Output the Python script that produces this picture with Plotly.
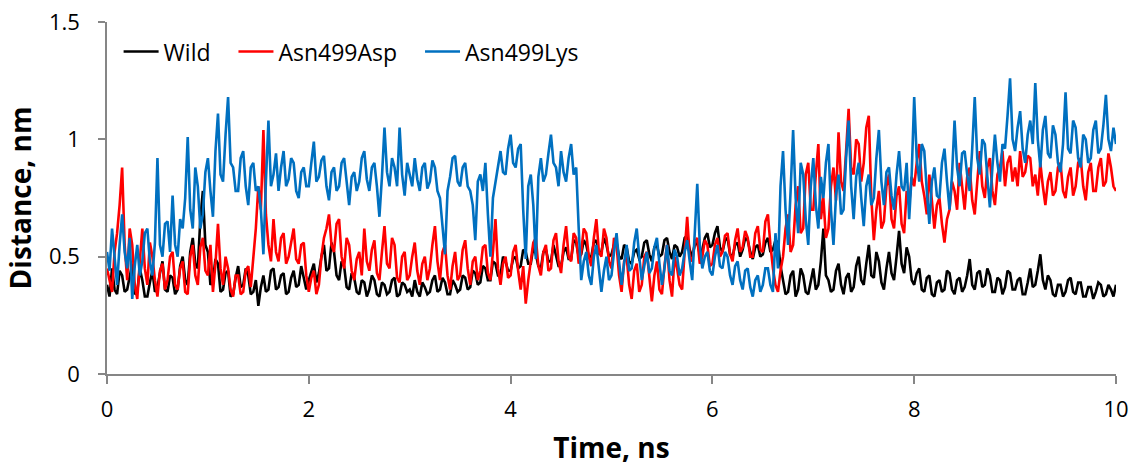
import plotly.graph_objects as go

# Simulation time axis (ns), sampled every 0.025 ns
time_ns = [round(i * 0.025, 3) for i in range(401)]

wild = [
    0.38, 0.33, 0.45, 0.36, 0.34, 0.44, 0.42, 0.35, 0.36, 0.41, 0.47, 0.34, 0.35, 0.45, 0.40, 0.33, 0.33, 0.39, 0.44, 0.35,
    0.37, 0.43, 0.48, 0.36, 0.35, 0.42, 0.41, 0.34, 0.36, 0.46, 0.50, 0.40, 0.38, 0.52, 0.58, 0.47, 0.45, 0.66, 0.78, 0.55,
    0.52, 0.38, 0.40, 0.49, 0.47, 0.35, 0.36, 0.43, 0.44, 0.33, 0.34, 0.41, 0.46, 0.37, 0.38, 0.45, 0.42, 0.34, 0.35, 0.40,
    0.29, 0.37, 0.42, 0.35, 0.36, 0.44, 0.45, 0.36, 0.37, 0.42, 0.43, 0.34, 0.35, 0.41, 0.44, 0.37, 0.38, 0.46, 0.41, 0.36,
    0.40, 0.44, 0.47, 0.39, 0.43, 0.50, 0.55, 0.44, 0.45, 0.56, 0.52, 0.42, 0.40, 0.48, 0.46, 0.37, 0.36, 0.43, 0.41, 0.35,
    0.34, 0.40, 0.39, 0.33, 0.36, 0.42, 0.40, 0.34, 0.33, 0.39, 0.38, 0.34, 0.35, 0.40, 0.41, 0.33, 0.34, 0.39, 0.38, 0.35,
    0.36, 0.33, 0.40, 0.35, 0.33, 0.39, 0.37, 0.34, 0.35, 0.40, 0.42, 0.35, 0.36, 0.41, 0.39, 0.34, 0.34, 0.40, 0.38, 0.35,
    0.36, 0.42, 0.41, 0.36, 0.37, 0.44, 0.43, 0.38, 0.39, 0.46, 0.45, 0.40, 0.40, 0.48, 0.47, 0.42, 0.42, 0.50, 0.48, 0.44,
    0.44, 0.49, 0.50, 0.45, 0.46, 0.53, 0.52, 0.47, 0.47, 0.54, 0.51, 0.46, 0.45, 0.52, 0.53, 0.48, 0.48, 0.55, 0.50, 0.46,
    0.46, 0.52, 0.54, 0.49, 0.49, 0.57, 0.56, 0.50, 0.51, 0.57, 0.55, 0.50, 0.50, 0.56, 0.57, 0.51, 0.52, 0.58, 0.55, 0.50,
    0.51, 0.55, 0.56, 0.50, 0.49, 0.55, 0.54, 0.48, 0.47, 0.52, 0.53, 0.49, 0.50, 0.56, 0.57, 0.51, 0.48, 0.54, 0.55, 0.50,
    0.51, 0.57, 0.58, 0.52, 0.49, 0.55, 0.54, 0.50, 0.52, 0.58, 0.59, 0.53, 0.50, 0.55, 0.56, 0.51, 0.53, 0.58, 0.60, 0.54,
    0.55, 0.60, 0.63, 0.54, 0.52, 0.57, 0.58, 0.51, 0.50, 0.55, 0.56, 0.50, 0.53, 0.58, 0.57, 0.52, 0.49, 0.54, 0.55, 0.50,
    0.51, 0.56, 0.58, 0.52, 0.53, 0.57, 0.56, 0.46, 0.40, 0.34, 0.35, 0.42, 0.44, 0.33, 0.36, 0.45, 0.42, 0.35, 0.34, 0.40,
    0.45, 0.36, 0.38, 0.48, 0.62, 0.42, 0.40, 0.35, 0.36, 0.44, 0.47, 0.38, 0.34, 0.41, 0.43, 0.35, 0.37, 0.46, 0.50, 0.40,
    0.38, 0.47, 0.55, 0.42, 0.41, 0.52, 0.48, 0.39, 0.36, 0.45, 0.52, 0.43, 0.40, 0.50, 0.61, 0.47, 0.43, 0.54, 0.50, 0.40,
    0.38, 0.43, 0.45, 0.36, 0.35, 0.41, 0.42, 0.34, 0.33, 0.39, 0.40, 0.35, 0.36, 0.44, 0.43, 0.36, 0.34, 0.40, 0.41, 0.35,
    0.37, 0.42, 0.49, 0.38, 0.36, 0.43, 0.44, 0.37, 0.38, 0.45, 0.42, 0.35, 0.35, 0.41, 0.40, 0.34, 0.37, 0.44, 0.43, 0.36,
    0.36, 0.40, 0.41, 0.34, 0.34, 0.39, 0.45, 0.37, 0.38, 0.44, 0.51, 0.40, 0.36, 0.42, 0.40, 0.34, 0.33, 0.38, 0.38, 0.33,
    0.35, 0.40, 0.41, 0.35, 0.34, 0.39, 0.39, 0.33, 0.33, 0.37, 0.37, 0.32, 0.35, 0.39, 0.38, 0.33, 0.34, 0.38, 0.36, 0.33,
    0.38,
]

asn499asp = [
    0.45, 0.40, 0.35, 0.52, 0.60, 0.72, 0.88, 0.55, 0.40, 0.62, 0.55, 0.38, 0.32, 0.48, 0.62, 0.45, 0.38, 0.56, 0.50, 0.40,
    0.33, 0.44, 0.47, 0.36, 0.40, 0.50, 0.52, 0.38, 0.36, 0.45, 0.48, 0.35, 0.34, 0.50, 0.55, 0.42, 0.38, 0.54, 0.58, 0.44,
    0.42, 0.55, 0.35, 0.47, 0.64, 0.45, 0.38, 0.50, 0.45, 0.36, 0.33, 0.42, 0.42, 0.34, 0.35, 0.44, 0.46, 0.37, 0.48, 0.62,
    0.80, 0.70, 1.04, 0.68, 0.55, 0.48, 0.66, 0.52, 0.48, 0.58, 0.60, 0.47, 0.50, 0.57, 0.62, 0.49, 0.47, 0.55, 0.56, 0.42,
    0.35, 0.41, 0.44, 0.34, 0.38, 0.50, 0.58, 0.62, 0.68, 0.55, 0.52, 0.64, 0.66, 0.50, 0.45, 0.58, 0.55, 0.44, 0.40, 0.49,
    0.52, 0.42, 0.62, 0.48, 0.44, 0.53, 0.57, 0.43, 0.40, 0.52, 0.63, 0.47, 0.45, 0.58, 0.55, 0.41, 0.39, 0.50, 0.52, 0.40,
    0.42, 0.50, 0.56, 0.44, 0.38, 0.47, 0.50, 0.40, 0.45, 0.55, 0.63, 0.48, 0.40, 0.52, 0.55, 0.42, 0.36, 0.46, 0.52, 0.40,
    0.42, 0.53, 0.57, 0.45, 0.38, 0.48, 0.50, 0.40, 0.44, 0.54, 0.55, 0.43, 0.40, 0.52, 0.66, 0.45, 0.38, 0.47, 0.50, 0.41,
    0.42, 0.52, 0.55, 0.44, 0.36, 0.46, 0.30, 0.40, 0.48, 0.56, 0.58, 0.46, 0.42, 0.52, 0.55, 0.44, 0.45, 0.57, 0.60, 0.48,
    0.43, 0.55, 0.63, 0.50, 0.48, 0.60, 0.58, 0.47, 0.52, 0.62, 0.60, 0.50, 0.46, 0.58, 0.66, 0.52, 0.50, 0.62, 0.58, 0.48,
    0.45, 0.58, 0.55, 0.42, 0.35, 0.48, 0.50, 0.38, 0.32, 0.44, 0.47, 0.35, 0.38, 0.50, 0.52, 0.40, 0.31, 0.42, 0.48, 0.36,
    0.34, 0.46, 0.55, 0.40, 0.33, 0.50, 0.45, 0.38, 0.36, 0.52, 0.67, 0.50, 0.48, 0.56, 0.58, 0.47, 0.50, 0.57, 0.55, 0.46,
    0.47, 0.55, 0.58, 0.50, 0.52, 0.59, 0.60, 0.51, 0.48, 0.57, 0.62, 0.52, 0.54, 0.61, 0.58, 0.50, 0.50, 0.60, 0.63, 0.53,
    0.52, 0.65, 0.68, 0.55, 0.45, 0.38, 0.35, 0.44, 0.50, 0.62, 0.68, 0.52, 0.55, 0.72, 0.80, 0.60, 0.62, 0.85, 0.90, 0.70,
    0.70, 0.85, 0.98, 0.66, 0.75, 0.58, 0.62, 0.80, 0.88, 0.74, 1.03, 0.82, 0.78, 0.95, 1.13, 0.88, 0.85, 1.00, 0.98, 0.82,
    0.90, 1.05, 1.10, 0.75, 0.57, 0.70, 0.78, 0.62, 0.65, 0.80, 0.85, 0.66, 0.62, 0.76, 0.80, 0.64, 0.60, 0.78, 0.72, 0.84,
    0.80, 0.90, 0.98, 0.82, 0.76, 0.68, 0.85, 0.74, 0.62, 0.72, 0.75, 0.64, 0.56, 0.66, 0.70, 0.82, 0.78, 0.70, 0.90, 0.80,
    0.70, 0.84, 0.88, 0.74, 0.68, 0.82, 0.95, 0.80, 0.75, 0.88, 0.92, 0.78, 0.72, 0.85, 0.88, 0.95, 0.80, 0.90, 0.93, 0.82,
    0.88, 0.80, 0.95, 0.84, 0.86, 0.93, 0.92, 0.80, 0.85, 0.76, 0.90, 0.80, 0.72, 0.82, 0.86, 0.76, 0.78, 0.88, 0.90, 0.78,
    0.75, 0.84, 0.88, 0.76, 0.80, 0.90, 0.92, 0.80, 0.74, 0.86, 0.90, 0.78, 0.78, 0.88, 0.92, 0.80, 0.82, 0.94, 0.88, 0.80,
    0.78,
]

asn499lys = [
    0.52, 0.44, 0.62, 0.50, 0.38, 0.55, 0.68, 0.52, 0.45, 0.58, 0.32, 0.46, 0.55, 0.42, 0.48, 0.60, 0.62, 0.48, 0.42, 0.56,
    0.92, 0.55, 0.50, 0.64, 0.65, 0.52, 0.76, 0.55, 0.50, 0.66, 0.62, 0.75, 1.01, 0.70, 0.62, 0.88, 0.80, 0.62, 0.68, 0.86,
    0.92, 0.78, 0.67, 0.95, 1.11, 0.85, 0.82, 1.02, 1.18, 0.90, 0.88, 0.78, 0.78, 0.92, 0.95, 0.80, 0.72, 0.88, 0.90, 0.78,
    0.80, 0.70, 0.51, 0.82, 1.08, 0.80, 0.85, 0.94, 0.78, 0.88, 0.95, 0.80, 0.83, 0.92, 0.90, 0.78, 0.75, 0.86, 0.88, 0.80,
    0.80, 0.90, 0.99, 0.82, 0.84, 0.91, 0.93, 0.80, 0.74, 0.86, 0.88, 0.78, 0.80, 0.90, 0.92, 0.82, 0.72, 0.84, 0.86, 0.78,
    0.82, 0.92, 0.95, 0.83, 0.78, 0.88, 0.90, 0.80, 0.67, 0.84, 1.05, 0.86, 0.80, 0.92, 0.88, 0.80, 1.05, 0.85, 0.76, 0.90,
    0.85, 0.80, 0.92, 0.83, 0.78, 0.88, 0.90, 0.79, 0.82, 0.91, 0.88, 0.78, 0.75, 0.62, 0.51, 0.78, 0.84, 0.92, 0.93, 0.82,
    0.80, 0.88, 0.90, 0.80, 0.78, 0.72, 0.57, 0.82, 0.85, 0.78, 0.90, 0.68, 0.50, 0.75, 0.82, 0.90, 0.95, 0.86, 0.85, 0.96,
    1.02, 0.90, 0.88, 0.96, 0.98, 0.70, 0.49, 0.80, 0.85, 0.72, 0.49, 0.84, 0.92, 0.82, 0.85, 0.94, 1.02, 0.90, 0.88, 0.80,
    0.95, 0.86, 0.82, 0.92, 0.98, 0.85, 0.88, 0.62, 0.40, 0.48, 0.52, 0.42, 0.38, 0.50, 0.55, 0.45, 0.35, 0.44, 0.50, 0.40,
    0.42, 0.52, 0.60, 0.48, 0.38, 0.47, 0.55, 0.44, 0.45, 0.56, 0.62, 0.50, 0.40, 0.46, 0.52, 0.43, 0.45, 0.54, 0.58, 0.47,
    0.38, 0.45, 0.55, 0.44, 0.42, 0.53, 0.50, 0.42, 0.45, 0.52, 0.57, 0.48, 0.40, 0.60, 0.81, 0.55, 0.45, 0.50, 0.52, 0.44,
    0.42, 0.50, 0.55, 0.46, 0.45, 0.52, 0.50, 0.42, 0.38, 0.46, 0.48, 0.40, 0.36, 0.44, 0.45, 0.37, 0.33, 0.40, 0.42, 0.35,
    0.38, 0.45, 0.45, 0.38, 0.35, 0.60, 0.45, 0.80, 0.95, 0.70, 0.55, 0.78, 1.04, 0.75, 0.60, 0.90, 0.85, 0.66, 0.55, 0.80,
    0.92, 0.72, 0.62, 0.84, 0.75, 0.90, 0.98, 0.70, 0.55, 0.76, 0.85, 0.68, 0.70, 0.92, 1.08, 0.80, 0.66, 0.84, 0.90, 0.75,
    0.63, 0.80, 0.85, 0.72, 0.75, 0.92, 1.04, 0.82, 0.72, 0.86, 0.88, 0.76, 0.70, 0.85, 0.95, 0.80, 0.78, 0.90, 0.66, 0.85,
    1.18, 0.92, 0.82, 0.98, 0.95, 0.78, 0.64, 0.82, 0.88, 0.76, 0.75, 0.90, 0.96, 0.82, 0.70, 0.85, 1.08, 0.88, 0.80, 0.94,
    0.95, 0.85, 0.78, 0.96, 1.18, 0.92, 0.85, 1.00, 0.98, 0.84, 0.71, 0.88, 1.02, 0.90, 0.82, 0.98, 0.96, 1.10, 1.26, 1.00,
    0.95, 1.05, 1.12, 0.96, 0.90, 1.02, 1.08, 0.98, 1.24, 1.00, 0.88, 1.04, 1.10, 0.94, 0.92, 1.06, 1.02, 0.90, 0.86, 0.98,
    1.20, 0.96, 0.94, 1.08, 1.05, 0.92, 0.88, 1.02, 1.00, 0.90, 0.92, 1.04, 1.08, 0.94, 0.96, 1.06, 1.19, 1.00, 0.95, 1.05,
    0.98,
]

series = [
    ("Wild", wild, "#000000"),
    ("Asn499Asp", asn499asp, "#FF0000"),
    ("Asn499Lys", asn499lys, "#0070C0"),
]

FONT = "Open Sans, Lato, sans-serif"
AXIS_GRAY = "#868686"
NBSP_PAD = "\u00a0\u00a0\u00a0"  # extra room between legend entries

fig = go.Figure()
for name, values, color in series:
    fig.add_trace(go.Scatter(
        x=time_ns, y=values, mode="lines", name=name + NBSP_PAD,
        line=dict(color=color, width=2.6),
    ))

fig.update_layout(
    width=1131, height=466,
    margin=dict(l=107, r=15, t=22, b=92),
    paper_bgcolor="white", plot_bgcolor="white",
    font=dict(family=FONT, size=22, color="#000000"),
    showlegend=True,
    legend=dict(
        orientation="h", x=0.0115, y=0.977, xanchor="left", yanchor="top",
        font=dict(family=FONT, size=23), bgcolor="rgba(0,0,0,0)",
        itemwidth=35, tracegroupgap=0,
    ),
    xaxis=dict(
        range=[0, 10], tickvals=[0, 2, 4, 6, 8, 10],
        showgrid=False, zeroline=False, automargin=False,
        showline=True, linecolor=AXIS_GRAY, linewidth=1.5,
        ticks="outside", ticklen=8, tickcolor=AXIS_GRAY, tickwidth=1.5,
        ticklabelstandoff=7,
        title=dict(text="<b>Time, ns</b>", font=dict(family=FONT, size=28), standoff=24),
        tickfont=dict(family=FONT, size=22),
    ),
    yaxis=dict(
        range=[0, 1.5], tickvals=[0, 0.5, 1, 1.5], ticktext=["0", "0.5", "1", "1.5"],
        showgrid=False, zeroline=False, automargin=False,
        showline=True, linecolor=AXIS_GRAY, linewidth=1.5,
        ticks="outside", ticklen=7, tickcolor=AXIS_GRAY, tickwidth=1.5,
        ticklabelstandoff=14,
        title=dict(text="<b>Distance, nm</b>", font=dict(family=FONT, size=28), standoff=9),
        tickfont=dict(family=FONT, size=22),
    ),
)

fig.write_html("out.html")
